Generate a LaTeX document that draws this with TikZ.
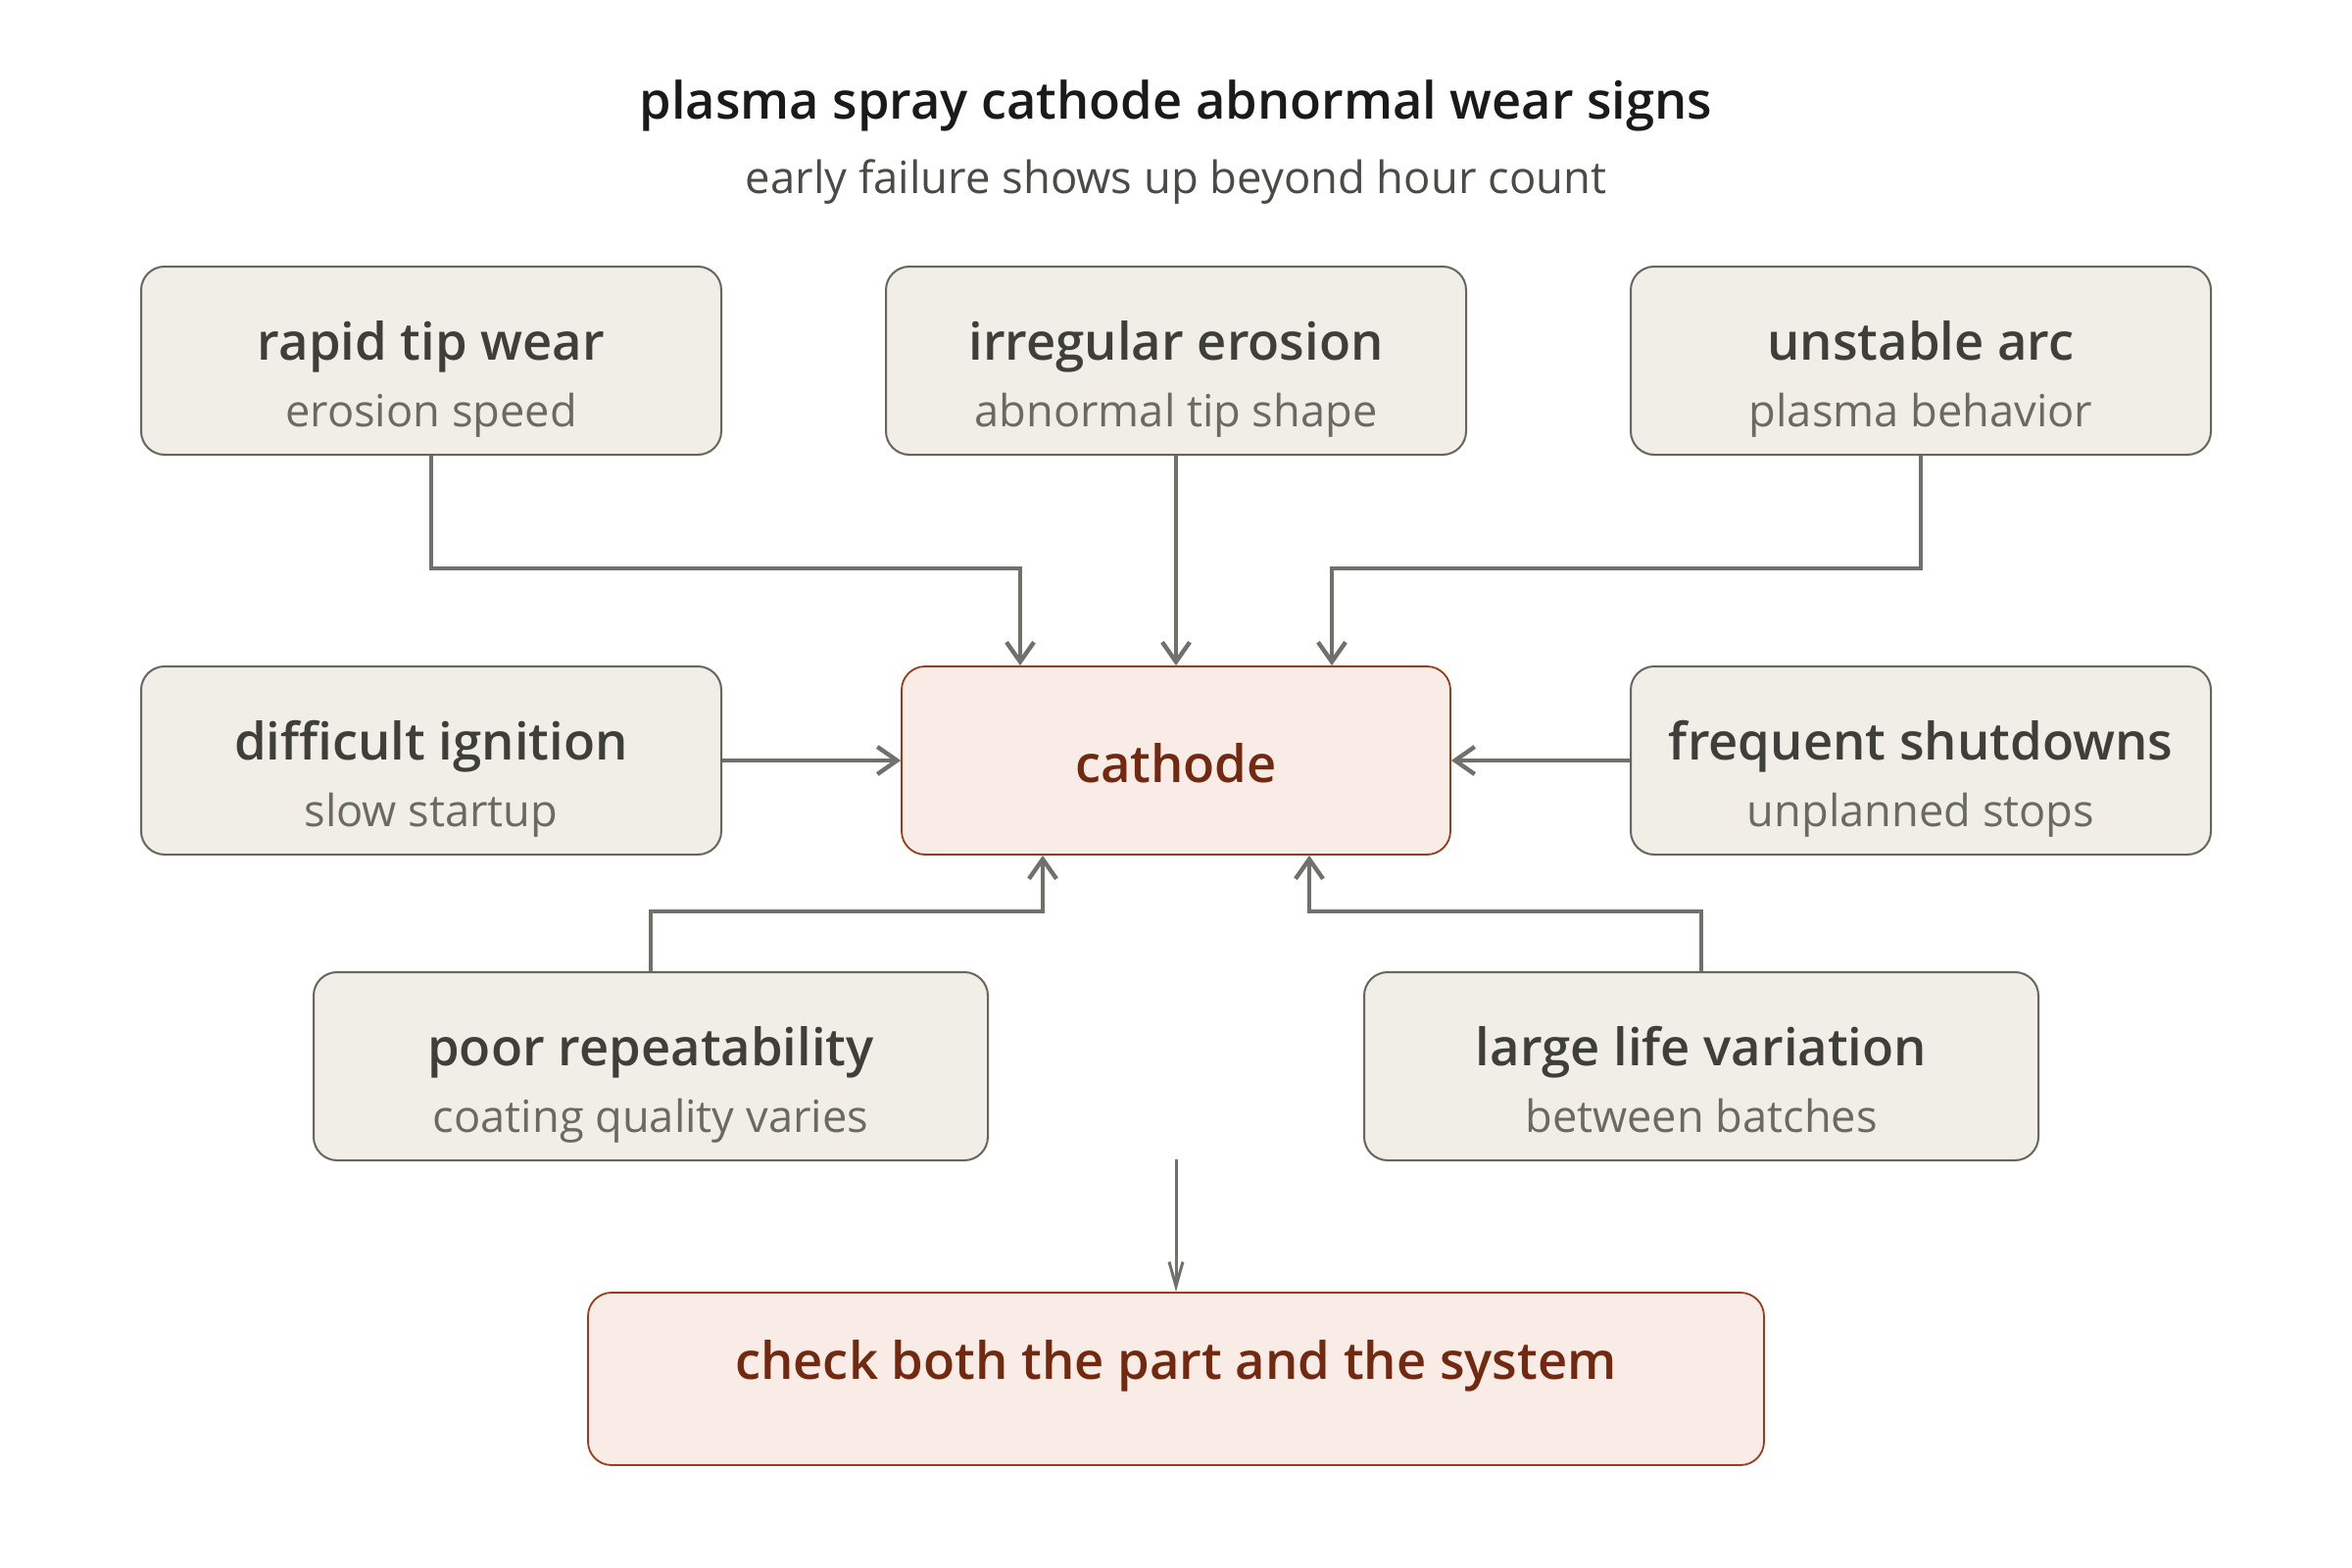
\documentclass[tikz,border=0pt]{standalone}
\usepackage{fontspec}
\setmainfont{Open Sans}
\IfFontExistsTF{Open Sans SemiBold}{\newfontfamily\semib{Open Sans SemiBold}}{%
  \IfFontExistsTF{Open Sans Semibold}{\newfontfamily\semib{Open Sans Semibold}}{\newcommand\semib{\bfseries}}}
\usetikzlibrary{arrows.meta,calc}
\definecolor{boxfill}{HTML}{F1EEE8}
\definecolor{boxdraw}{HTML}{66665F}
\definecolor{hotfill}{HTML}{F9ECE7}
\definecolor{hotdraw}{HTML}{9A3B1E}
\definecolor{hottext}{HTML}{72290F}
\definecolor{arrowc}{HTML}{71716B}
\definecolor{titlec}{HTML}{1A1A1A}
\definecolor{subc}{HTML}{4A4A46}
\definecolor{headc}{HTML}{3E3E3A}
\definecolor{notec}{HTML}{6A6A64}
\begin{document}
\begin{tikzpicture}[x=0.5pt,y=-0.5pt,
  sign/.style={draw=boxdraw, fill=boxfill, line width=1pt, rounded corners=12pt,
    minimum width=296pt, minimum height=96pt, inner sep=0pt},
  hot/.style={draw=hotdraw, fill=hotfill, line width=0.9pt, rounded corners=12pt, inner sep=0pt},
  head/.style={anchor=base, inner sep=0pt, text=headc, font=\fontsize{26.3}{31}\selectfont\semib},
  note/.style={anchor=base, inner sep=0pt, text=notec, font=\fontsize{22.6}{27}\selectfont},
  hothead/.style={anchor=base, inner sep=0pt, text=hottext, font=\fontsize{26.3}{31}\selectfont\semib},
  conn/.style={draw=arrowc, line width=2.2pt, -{Straight Barb[length=10pt,width=14pt]}},
  thinconn/.style={draw=arrowc, line width=1.5pt, -{Straight Barb[length=12.5pt,width=7pt]}}
]
\useasboundingbox (0,0) rectangle (2400,1600);
\fill[white] (0,0) rectangle (2400,1600);

% title
\node[anchor=base, inner sep=0pt, text=titlec, font=\fontsize{26.2}{31}\selectfont\semib] (ttl) at (1200,122) {plasma spray cathode abnormal wear signs};
\node[anchor=base, inner sep=0pt, text=subc, font=\fontsize{22.7}{27}\selectfont] (sub) at (1200,198) {early failure shows up beyond hour count};

% boxes
\node[sign] (tip) at (440,368) {};
\node[sign] (ero) at (1200,368) {};
\node[sign] (arc) at (1960,368) {};
\node[sign] (ign) at (440,776) {};
\node[hot, minimum width=280pt, minimum height=96pt] (cat) at (1200,776) {};
\node[sign] (shut) at (1960,776) {};
\node[sign, minimum width=344pt] (rep) at (664,1088) {};
\node[sign, minimum width=344pt] (life) at (1736,1088) {};
\node[hot, minimum width=600pt, minimum height=88pt] (chk) at (1200,1407) {};

% texts
\node[head] (tipA) at (440,367) {rapid tip wear};
\node[note] (tipB) at (440,435) {erosion speed};
\node[head] (eroA) at (1200,367) {irregular erosion};
\node[note] (eroB) at (1200,435) {abnormal tip shape};
\node[head] (arcA) at (1960,367) {unstable arc};
\node[note] (arcB) at (1960,435) {plasma behavior};
\node[head] (ignA) at (440,775) {difficult ignition};
\node[note] (ignB) at (440,843) {slow startup};
\node[hothead] (catA) at (1200,798) {cathode};
\node[head] (shutA) at (1960,775) {frequent shutdowns};
\node[note] (shutB) at (1960,843) {unplanned stops};
\node[head] (repA) at (664,1087) {poor repeatability};
\node[note] (repB) at (664,1155) {coating quality varies};
\node[head] (lifeA) at (1736,1087) {large life variation};
\node[note] (lifeB) at (1736,1155) {between batches};
\node[hothead] (chkA) at (1200,1407) {check both the part and the system};

% connectors
\draw[conn] (tip.south) -- ++(0,115) -| ($(cat.north)+(-159,0)$);
\draw[conn] (ero.south) -- (cat.north);
\draw[conn] (arc.south) -- ++(0,115) -| ($(cat.north)+(159,0)$);
\draw[conn] (ign.east) -- (cat.west);
\draw[conn] (shut.west) -- (cat.east);
\draw[conn] (rep.north) -- ++(0,-61) -| ($(cat.south)+(-136,0)$);
\draw[conn] (life.north) -- ++(0,-61) -| ($(cat.south)+(136,0)$);
\coordinate (fork) at (1200,1183);
\draw[thinconn] (fork) -- (chk.north);
\end{tikzpicture}
\end{document}
